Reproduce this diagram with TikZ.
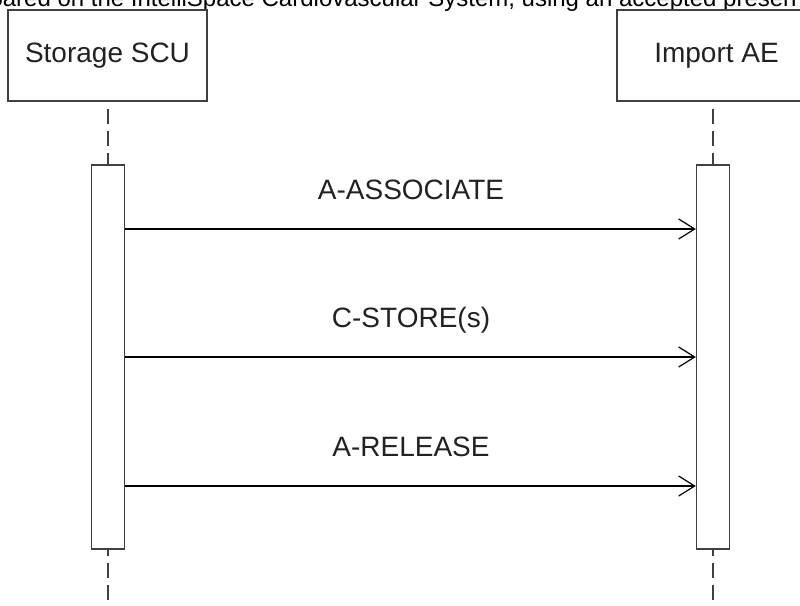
\documentclass[tikz,border=0pt]{standalone}
\usepackage{fontspec}
\setmainfont{Liberation Sans}
\usetikzlibrary{arrows.meta}
\definecolor{linegray}{HTML}{404040}
\definecolor{textgray}{HTML}{222222}

\begin{document}
\begin{tikzpicture}[x=1pt,y=-1pt,
  font=\fontsize{28}{33}\selectfont, text=textgray,
  actor/.style={draw=linegray, line width=1.4pt, fill=white, minimum width=199pt, minimum height=91pt, inner sep=0pt},
  lifebar/.style={draw=linegray, line width=1.4pt, fill=white, minimum width=33pt, minimum height=384pt, inner sep=0pt},
  lifeline/.style={draw=linegray, line width=1.6pt, dash pattern=on 15pt off 7pt},
  msg/.style={draw=black, line width=1.2pt, -{Straight Barb[length=16pt,width=20pt,line width=1.2pt]}},
  msglabel/.style={anchor=base}]

\useasboundingbox (0,0) rectangle (800,605);
\clip (0,0) rectangle (800,605);

\node[anchor=base west, font=\fontsize{24}{28}\selectfont, text=black] (caption) at (-14,6) {pared on the IntelliSpace Cardiovascular System, using an accepted presen};

\node[actor] (scu) at (107.5,55.5) {Storage SCU};
\node[actor] (ae) at (716.5,55.5) {Import AE};

\node[lifebar] (scubar) at (108,357) {};
\node[lifebar] (aebar) at (713,357) {};

\coordinate (scuend) at (108,605);
\coordinate (aeend) at (713,605);

\draw[lifeline, dash phase=15pt] (scu.south -| scubar.north) -- (scubar.north);
\draw[lifeline, dash phase=15pt] (ae.south -| aebar.north) -- (aebar.north);
\draw[lifeline, dash phase=9pt] (scubar.south) -- (scuend);
\draw[lifeline, dash phase=9pt] (aebar.south) -- (aeend);

\node[msglabel] (assoc) at (411,199) {A-ASSOCIATE};
\node[msglabel] (store) at (411,327) {C-STORE(s)};
\node[msglabel] (release) at (411,456) {A-RELEASE};

\coordinate (m1) at (411,229);
\coordinate (m2) at (411,357);
\coordinate (m3) at (411,486);

\draw[msg] (scubar.east |- m1) -- (aebar.west |- m1);
\draw[msg] (scubar.east |- m2) -- (aebar.west |- m2);
\draw[msg] (scubar.east |- m3) -- (aebar.west |- m3);

\end{tikzpicture}
\end{document}
